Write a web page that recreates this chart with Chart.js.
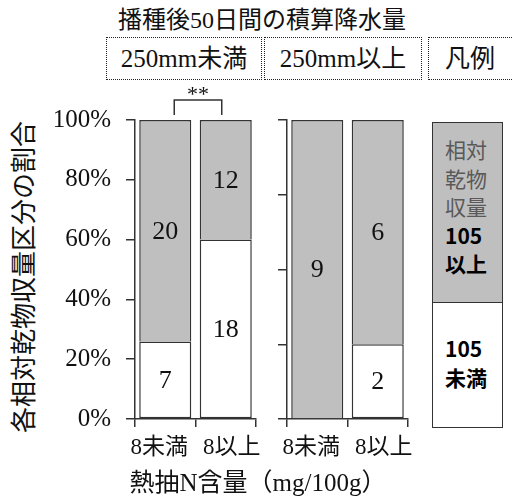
<!DOCTYPE html>
<html lang="ja">
<head>
<meta charset="utf-8">
<script src="https://cdn.jsdelivr.net/npm/chart.js@4/dist/chart.umd.min.js"></script>
<style>
  html, body { margin: 0; padding: 0; background: #fff; }
  #wrap { position: relative; width: 512px; height: 497px; overflow: hidden;
          font-family: "Liberation Serif", "Noto Sans CJK JP", serif; color: #111; }
  .abs { position: absolute; white-space: nowrap; }
  .box { position: absolute; box-sizing: border-box; border: 1px dotted #222;
         height: 43px; line-height: 41px; font-size: 25px; text-align: center; }
  canvas { position: absolute; }
  #legend { position: absolute; left: 432px; top: 122px; width: 71px; height: 306px;
            box-sizing: border-box; border: 1.5px solid #333;
            font-family: "Noto Sans CJK JP", sans-serif; font-size: 21px; }
  #legend .hi { height: 180px; background: #bfbfbf; border-bottom: 1.5px solid #333;
                box-sizing: border-box; padding: 12px 0 0 12px; }
  #legend .lo { padding: 31px 0 0 12px; }
  #legend .muted { color: #595959; line-height: 28.5px; }
  #legend .strong { color: #000; font-weight: bold; line-height: 28.5px; }
</style>
</head>
<body>
<div id="wrap">
  <div class="abs" style="left:62px; top:5px; width:400px; text-align:center; font-size:24px; line-height:30px;">播種後50日間の積算降水量</div>
  <div class="box" style="left:106px; top:37px; width:156px;">250mm未満</div>
  <div class="box" style="left:264px; top:37px; width:158px;">250mm以上</div>
  <div class="box" style="left:428px; top:37px; width:90px; text-align:left; padding-left:16px;">凡例</div>

  <div class="abs" style="left:-140px; top:262px; width:330px; height:30px; line-height:30px; text-align:center; font-size:26px; transform:rotate(-90deg);">各相対乾物収量区分の割合</div>

  <canvas id="panelA" width="270" height="390" style="left:0px; top:80px;"></canvas>
  <canvas id="panelB" width="150" height="390" style="left:270px; top:80px;"></canvas>

  <div class="abs" style="left:58px; top:469px; width:400px; text-align:center; font-size:25px; line-height:28px;">熱抽N含量（mg/100g）</div>

  <div id="legend">
    <div class="hi">
      <div class="muted">相対</div>
      <div class="muted">乾物</div>
      <div class="muted">収量</div>
      <div class="strong">105</div>
      <div class="strong">以上</div>
    </div>
    <div class="lo">
      <div class="strong">105</div>
      <div class="strong">未満</div>
    </div>
  </div>
</div>

<script>
// Hot-water extractable N classes (x categories)
const nClasses = ['8未満', '8以上'];

// Field counts per relative dry-matter yield class
// Cumulative rainfall < 250 mm
const below105_lowRain  = [7, 18];
const above105_lowRain  = [20, 12];
// Cumulative rainfall >= 250 mm
const below105_highRain = [0, 2];
const above105_highRain = [9, 6];

const yStepLowRain = 20;
const yStepHighRain = 25;

const SERIF = '"Liberation Serif", "Noto Sans CJK JP", serif';
const INK = '#333';
const GRAY = '#bfbfbf';

function shares(part, other) {
  return part.map((v, i) => v / (v + other[i]) * 100);
}

// Count labels centred in each stacked segment
const countLabels = {
  id: 'countLabels',
  afterDatasetsDraw(chart) {
    const ctx = chart.ctx;
    ctx.save();
    ctx.font = '26px ' + SERIF;
    ctx.fillStyle = '#111';
    ctx.textAlign = 'center';
    ctx.textBaseline = 'middle';
    chart.data.datasets.forEach((ds, di) => {
      const meta = chart.getDatasetMeta(di);
      meta.data.forEach((bar, i) => {
        const n = ds.counts[i];
        if (!n) return;
        ctx.fillText(String(n), bar.x, (bar.y + bar.base) / 2 + 1);
      });
    });
    ctx.restore();
  }
};

// Category names under the axis, spread slightly apart for readability
const categoryNames = {
  id: 'categoryNames',
  afterDraw(chart) {
    const xs = chart.scales.x;
    const ctx = chart.ctx;
    ctx.save();
    ctx.font = '23px ' + SERIF;
    ctx.fillStyle = '#111';
    ctx.textAlign = 'center';
    ctx.textBaseline = 'middle';
    chart.data.labels.forEach((name, i) => {
      const spread = i === 0 ? -6 : 6;
      ctx.fillText(name, xs.getPixelForValue(i) + spread, xs.top + 29);
    });
    ctx.restore();
  }
};

// Significance bracket between the two bars
const sigBracket = {
  id: 'sigBracket',
  afterDatasetsDraw(chart, args, opts) {
    if (!opts || !opts.text) return;
    const meta = chart.getDatasetMeta(0);
    const x1 = meta.data[0].x + 9;
    const x2 = meta.data[1].x - 4;
    const top = chart.chartArea.top;
    const ctx = chart.ctx;
    ctx.save();
    ctx.strokeStyle = INK;
    ctx.lineWidth = 1.5;
    ctx.beginPath();
    ctx.moveTo(x1, top - 5);
    ctx.lineTo(x1, top - 20);
    ctx.lineTo(x2, top - 20);
    ctx.lineTo(x2, top - 5);
    ctx.stroke();
    ctx.font = '22px ' + SERIF;
    ctx.fillStyle = '#111';
    ctx.textAlign = 'center';
    ctx.textBaseline = 'middle';
    ctx.fillText(opts.text, (x1 + x2) / 2, top - 25);
    ctx.restore();
  }
};

function makePanel(canvasId, below, above, cfg) {
  return new Chart(document.getElementById(canvasId), {
    type: 'bar',
    data: {
      labels: nClasses,
      datasets: [
        { label: '105未満', data: shares(below, above), counts: below,
          backgroundColor: '#ffffff', borderColor: INK, borderWidth: 1.5, borderSkipped: false },
        { label: '105以上', data: shares(above, below), counts: above,
          backgroundColor: GRAY, borderColor: INK, borderWidth: 1.5, borderSkipped: 'start' }
      ]
    },
    options: {
      responsive: false,
      animation: false,
      events: [],
      layout: { padding: { top: 40, right: cfg.rightPad, left: 0, bottom: 0 } },
      datasets: { bar: { categoryPercentage: 1, barPercentage: 0.86 } },
      plugins: {
        legend: { display: false },
        tooltip: { enabled: false },
        sigBracket: { text: cfg.sig || '' }
      },
      scales: {
        x: {
          stacked: true,
          offset: true,
          grid: { offset: true, drawOnChartArea: false, drawTicks: true, tickLength: 8,
                  color: INK, lineWidth: 1.5 },
          border: { display: true, color: INK, width: 1.5 },
          ticks: { display: false },
          afterFit(scale) { scale.height = 51; }
        },
        y: {
          stacked: true,
          min: 0, max: 100,
          grid: { drawOnChartArea: false, drawTicks: true, tickLength: 9,
                  color: INK, lineWidth: 1.5 },
          border: { display: true, color: INK, width: 1.5 },
          ticks: {
            display: cfg.showY,
            stepSize: cfg.step,
            font: { family: SERIF, size: 25 }, color: '#111', padding: 15,
            callback: v => v + '%'
          },
          afterFit(scale) { scale.width = cfg.axisWidth; }
        }
      }
    },
    plugins: [countLabels, sigBracket, categoryNames]
  });
}

makePanel('panelA', below105_lowRain, above105_lowRain,
  { step: yStepLowRain, showY: true, axisWidth: 135, rightPad: 14, sig: '**' });
makePanel('panelB', below105_highRain, above105_highRain,
  { step: yStepHighRain, showY: false, axisWidth: 17, rightPad: 12 });
</script>
</body>
</html>
